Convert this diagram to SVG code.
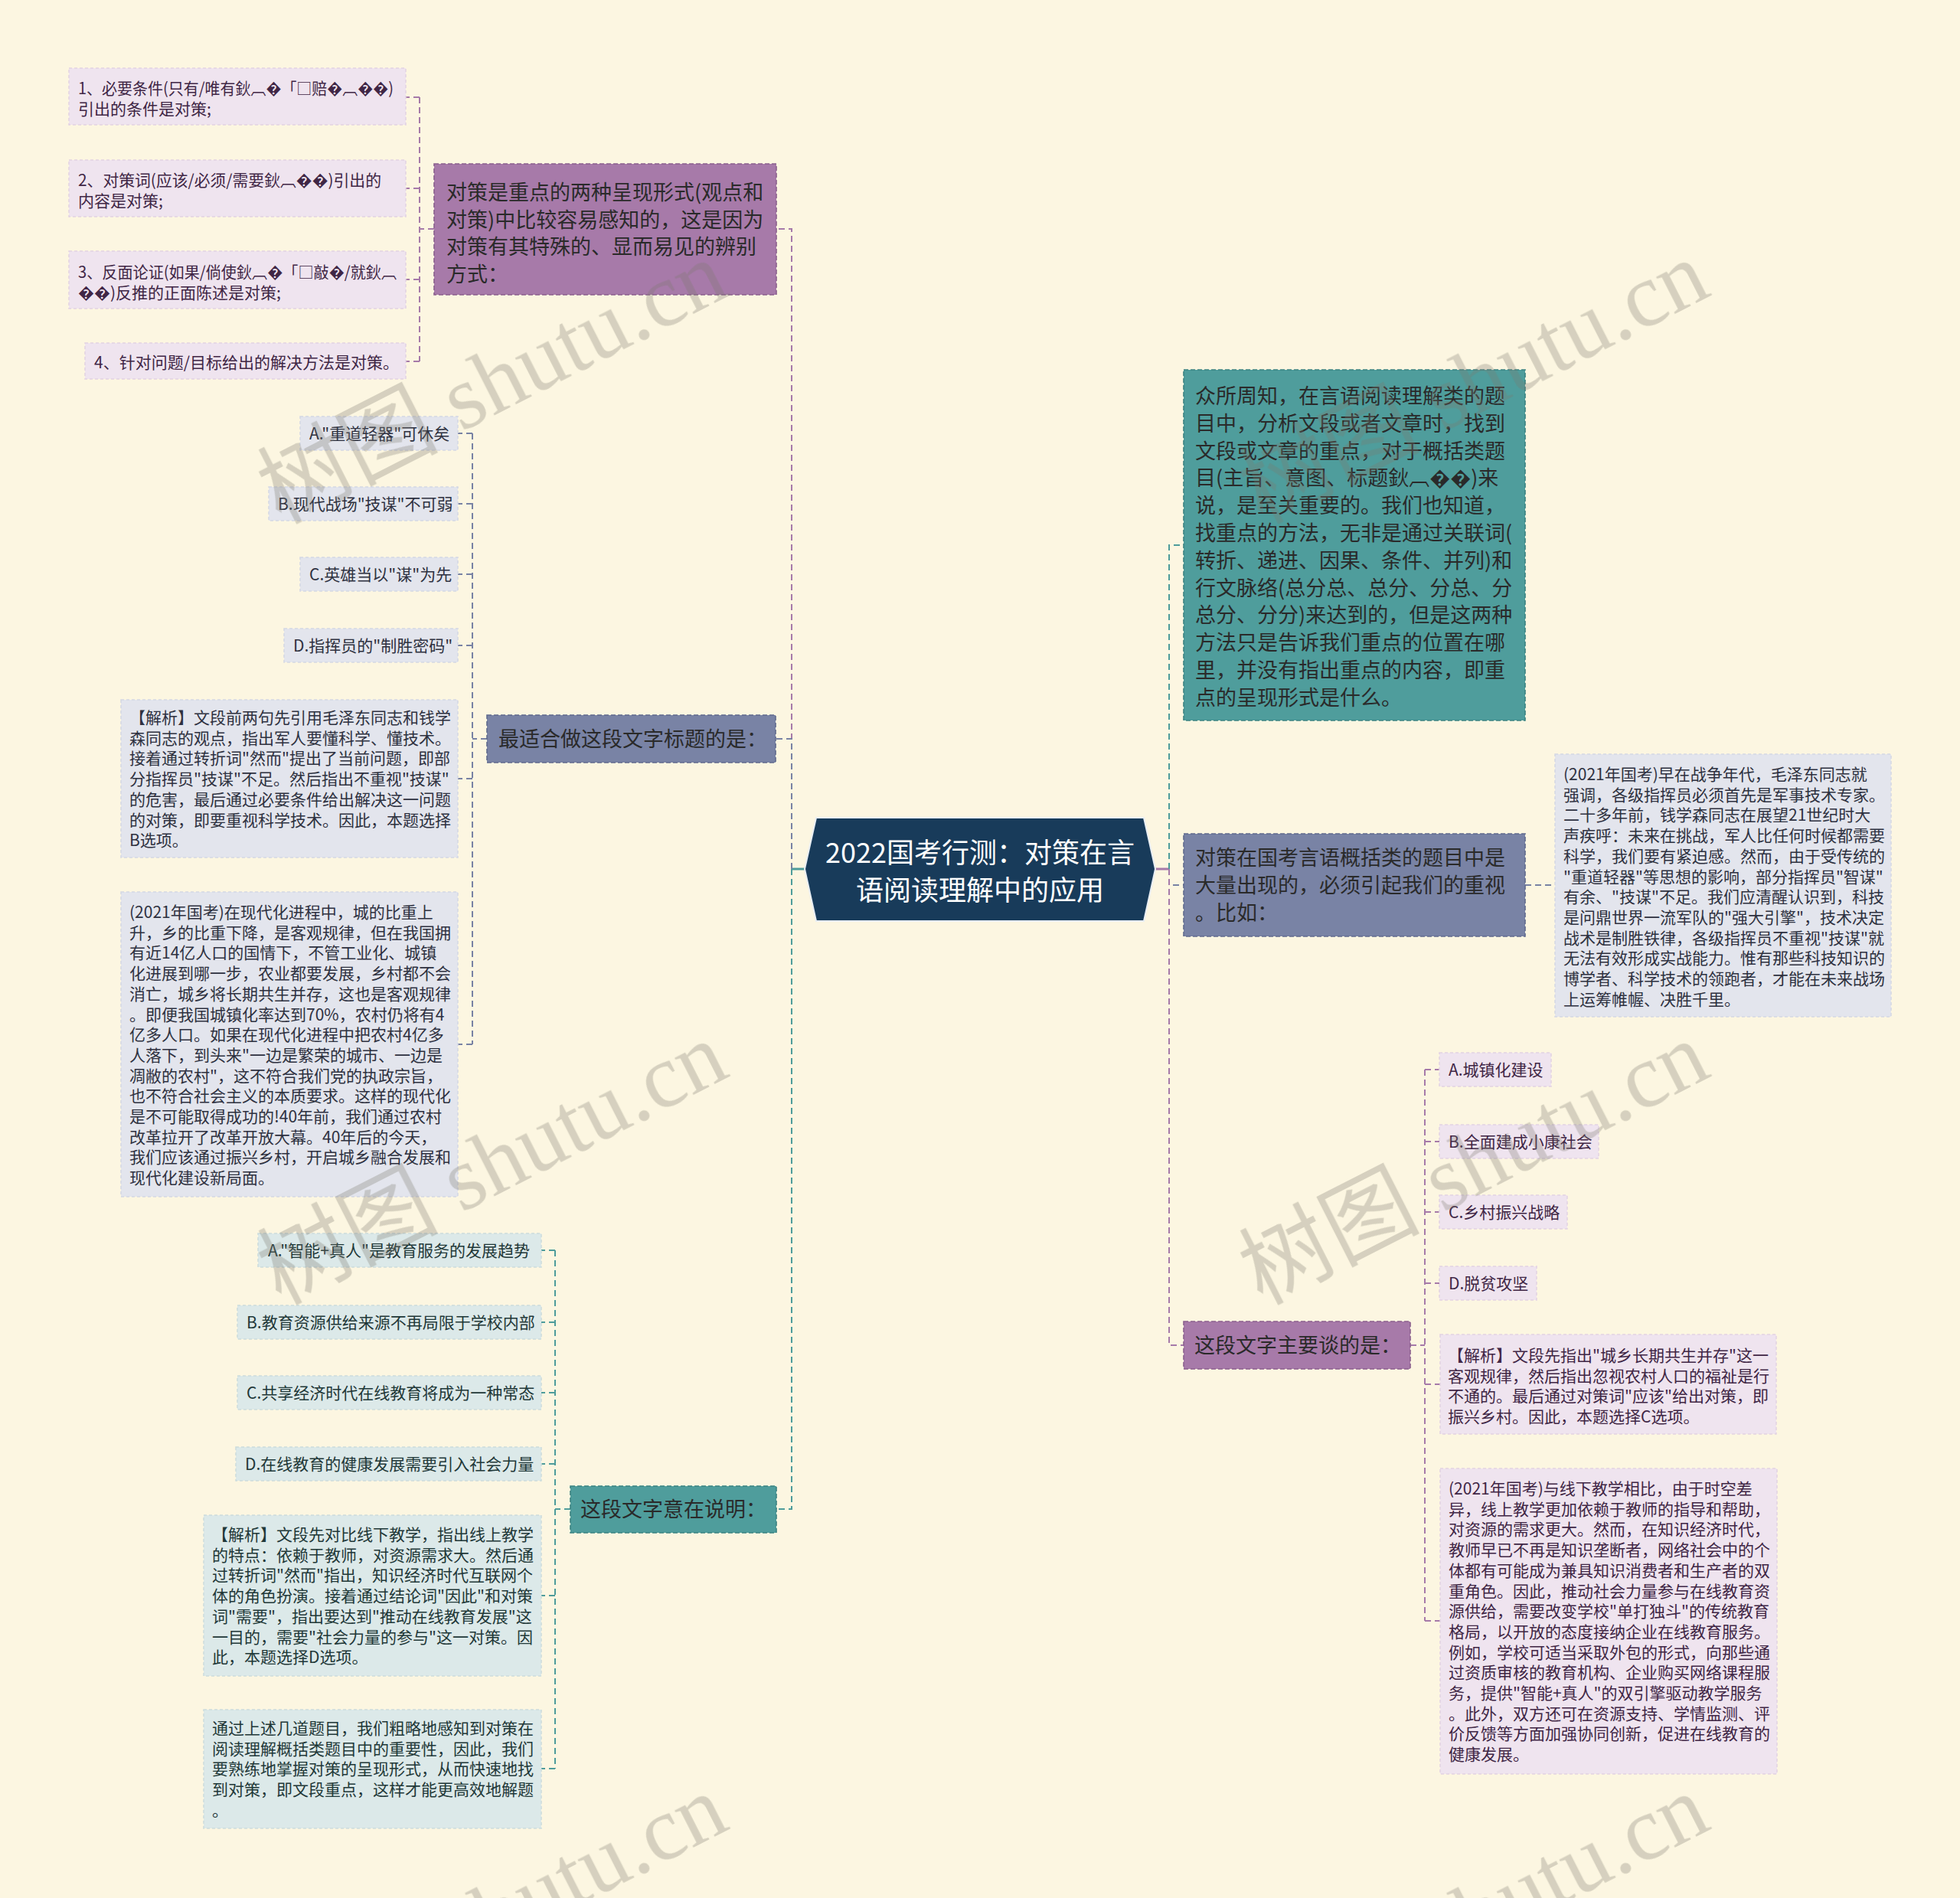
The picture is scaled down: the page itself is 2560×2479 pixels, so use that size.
<svg xmlns="http://www.w3.org/2000/svg" width="2560" height="2479" viewBox="0 0 2560 2479">
<style>
.t{font-family:"Noto Sans CJK SC","Noto Sans",sans-serif}
.l1{font-size:27px;fill:#2a2a2a}
.lf{font-size:21px}
.c{font-size:36px;fill:#ffffff;text-anchor:middle}
.tP{fill:#402645}.tS{fill:#2e3140}.tT{fill:#1f3838}
.ln{fill:none;stroke-width:2;stroke-dasharray:8 5}
.lP{stroke:#a67aa9}.lS{stroke:#7882a4}.lT{stroke:#4e9c9b}
.nP{fill:#a77aa9;stroke:#8a5f8d;stroke-width:1.6;stroke-dasharray:6 3}
.nS{fill:#7983a5;stroke:#5f6a8d;stroke-width:1.6;stroke-dasharray:6 3}
.nT{fill:#4f9d9c;stroke:#3a8281;stroke-width:1.6;stroke-dasharray:6 3}
.fP{fill:#efe4ef;stroke:#e2d2e2;stroke-width:1.5;stroke-dasharray:4 3}
.fS{fill:#e3e5ed;stroke:#d4d7e3;stroke-width:1.5;stroke-dasharray:4 3}
.fT{fill:#dce9e9;stroke:#cbdcdc;stroke-width:1.5;stroke-dasharray:4 3}
</style>
<rect width="2560" height="2479" fill="#fcf6e1"/>
<g id="connectors">
<line x1="1034" y1="1135" x2="1051" y2="1135" stroke="#4e9c9b" stroke-width="3"/>
<line x1="1509" y1="1135" x2="1527" y2="1135" stroke="#a67aa9" stroke-width="3"/>
<path class="ln lP" d="M1034,1135 V299 H1014"/>
<path class="ln lS" d="M1034,1135 V965 H1013"/>
<path class="ln lT" d="M1034,1135 V1971 H1014"/>
<path class="ln lP" d="M567,299 H548 M548,127 V472 M548,127 H530 M548,246 H530 M548,365 H530 M548,472 H530"/>
<path class="ln lS" d="M636,965 H617 M617,566 V1364 M617,566 H598 M617,658 H598 M617,750 H598 M617,843 H598 M617,1017 H598 M617,1364 H598"/>
<path class="ln lT" d="M745,1971 H725 M725,1633 V2310 M725,1633 H707 M725,1727 H707 M725,1819 H707 M725,1912 H707 M725,2084 H707 M725,2310 H707"/>
<path class="ln lT" d="M1527,1135 V712 H1546"/>
<path class="ln lS" d="M1527,1135 V1156 H1546"/>
<path class="ln lP" d="M1527,1135 V1757 H1546"/>
<path class="ln lS" d="M1992,1156 H2031"/>
<path class="ln lP" d="M1842,1757 H1861 M1861,1397 V2117 M1861,1397 H1880 M1861,1491 H1880 M1861,1583 H1880 M1861,1676 H1880 M1861,1808 H1881 M1861,2117 H1881"/>
</g>
<g id="center">
<polygon points="1066,1068 1494,1068 1509,1135 1494,1203 1066,1203 1051,1135" fill="#183b5a" stroke="#e9eef3" stroke-width="2"/>
<text class="t c" x="1280" y="1127">2022国考行测：对策在言</text>
<text class="t c" x="1280" y="1176">语阅读理解中的应用</text>
</g>
<g id="n-top-purple">
<rect class="nP" x="567" y="214" width="447" height="171"/>
<text class="t l1" x="583" y="261"><tspan x="583">对策是重点的两种呈现形式(观点和</tspan><tspan x="583" dy="35.7">对策)中比较容易感知的，这是因为</tspan><tspan x="583" dy="35.7">对策有其特殊的、显而易见的辨别</tspan><tspan x="583" dy="35.7">方式：</tspan></text>
</g>
<g id="leaf-p1"><rect class="fP" x="90" y="89" width="440" height="74"/><text class="t lf tP" x="102" y="123"><tspan x="102" textLength="412" lengthAdjust="spacingAndGlyphs">1、必要条件(只有/唯有鈥︹�「□赔�︹��)</tspan><tspan x="102" dy="26.7">引出的条件是对策;</tspan></text></g>
<g id="leaf-p2"><rect class="fP" x="90" y="209" width="440" height="74"/><text class="t lf tP" x="102" y="243"><tspan x="102" textLength="396" lengthAdjust="spacingAndGlyphs">2、对策词(应该/必须/需要鈥︹��)引出的</tspan><tspan x="102" dy="26.7">内容是对策;</tspan></text></g>
<g id="leaf-p3"><rect class="fP" x="90" y="328" width="440" height="75"/><text class="t lf tP" x="102" y="363"><tspan x="102" textLength="416" lengthAdjust="spacingAndGlyphs">3、反面论证(如果/倘使鈥︹�「□敲�/就鈥︹</tspan><tspan x="102" dy="26.7">��)反推的正面陈述是对策;</tspan></text></g>
<g id="leaf-p4"><rect class="fP" x="111" y="448" width="419" height="47"/><text class="t lf tP" x="123" y="481">4、针对问题/目标给出的解决方法是对策。</text></g>
<g id="n-title">
<rect class="nS" x="636" y="934" width="377" height="62"/>
<text class="t l1" x="651" y="975">最适合做这段文字标题的是：</text>
</g>
<g id="leaf-s1"><rect class="fS" x="392" y="544" width="206" height="44"/><text class="t lf tS" x="404" y="574">A."重道轻器"可休矣</text></g>
<g id="leaf-s2"><rect class="fS" x="351" y="636" width="247" height="44"/><text class="t lf tS" x="363" y="666">B.现代战场"技谋"不可弱</text></g>
<g id="leaf-s3"><rect class="fS" x="392" y="728" width="206" height="44"/><text class="t lf tS" x="404" y="758">C.英雄当以"谋"为先</text></g>
<g id="leaf-s4"><rect class="fS" x="371" y="821" width="227" height="44"/><text class="t lf tS" x="383" y="851">D.指挥员的"制胜密码"</text></g>
<g id="leaf-s5"><rect class="fS" x="158" y="914" width="440" height="206"/><text class="t lf tS" x="169" y="945"><tspan x="169">【解析】文段前两句先引用毛泽东同志和钱学</tspan><tspan x="169" dy="26.7">森同志的观点，指出军人要懂科学、懂技术。</tspan><tspan x="169" dy="26.7">接着通过转折词"然而"提出了当前问题，即部</tspan><tspan x="169" dy="26.7">分指挥员"技谋"不足。然后指出不重视"技谋"</tspan><tspan x="169" dy="26.7">的危害，最后通过必要条件给出解决这一问题</tspan><tspan x="169" dy="26.7">的对策，即要重视科学技术。因此，本题选择</tspan><tspan x="169" dy="26.7">B选项。</tspan></text></g>
<g id="leaf-s6"><rect class="fS" x="158" y="1165" width="440" height="398"/><text class="t lf tS" x="169" y="1199"><tspan x="169">(2021年国考)在现代化进程中，城的比重上</tspan><tspan x="169" dy="26.7">升，乡的比重下降，是客观规律，但在我国拥</tspan><tspan x="169" dy="26.7">有近14亿人口的国情下，不管工业化、城镇</tspan><tspan x="169" dy="26.7">化进展到哪一步，农业都要发展，乡村都不会</tspan><tspan x="169" dy="26.7">消亡，城乡将长期共生并存，这也是客观规律</tspan><tspan x="169" dy="26.7">。即便我国城镇化率达到70%，农村仍将有4</tspan><tspan x="169" dy="26.7">亿多人口。如果在现代化进程中把农村4亿多</tspan><tspan x="169" dy="26.7">人落下，到头来"一边是繁荣的城市、一边是</tspan><tspan x="169" dy="26.7">凋敝的农村"，这不符合我们党的执政宗旨，</tspan><tspan x="169" dy="26.7">也不符合社会主义的本质要求。这样的现代化</tspan><tspan x="169" dy="26.7">是不可能取得成功的!40年前，我们通过农村</tspan><tspan x="169" dy="26.7">改革拉开了改革开放大幕。40年后的今天，</tspan><tspan x="169" dy="26.7">我们应该通过振兴乡村，开启城乡融合发展和</tspan><tspan x="169" dy="26.7">现代化建设新局面。</tspan></text></g>
<g id="n-explain">
<rect class="nT" x="745" y="1941" width="269" height="61"/>
<text class="t l1" x="758" y="1981">这段文字意在说明：</text>
</g>
<g id="leaf-t1"><rect class="fT" x="337" y="1611" width="370" height="44"/><text class="t lf tT" x="350" y="1641">A."智能+真人"是教育服务的发展趋势</text></g>
<g id="leaf-t2"><rect class="fT" x="310" y="1705" width="397" height="44"/><text class="t lf tT" x="322" y="1735">B.教育资源供给来源不再局限于学校内部</text></g>
<g id="leaf-t3"><rect class="fT" x="310" y="1797" width="397" height="44"/><text class="t lf tT" x="322" y="1827">C.共享经济时代在线教育将成为一种常态</text></g>
<g id="leaf-t4"><rect class="fT" x="308" y="1890" width="399" height="44"/><text class="t lf tT" x="320" y="1920">D.在线教育的健康发展需要引入社会力量</text></g>
<g id="leaf-t5"><rect class="fT" x="266" y="1979" width="441" height="210"/><text class="t lf tT" x="277" y="2012"><tspan x="277">【解析】文段先对比线下教学，指出线上教学</tspan><tspan x="277" dy="26.7">的特点：依赖于教师，对资源需求大。然后通</tspan><tspan x="277" dy="26.7">过转折词"然而"指出，知识经济时代互联网个</tspan><tspan x="277" dy="26.7">体的角色扮演。接着通过结论词"因此"和对策</tspan><tspan x="277" dy="26.7">词"需要"，指出要达到"推动在线教育发展"这</tspan><tspan x="277" dy="26.7">一目的，需要"社会力量的参与"这一对策。因</tspan><tspan x="277" dy="26.7">此，本题选择D选项。</tspan></text></g>
<g id="leaf-t6"><rect class="fT" x="266" y="2233" width="441" height="155"/><text class="t lf tT" x="277" y="2265"><tspan x="277">通过上述几道题目，我们粗略地感知到对策在</tspan><tspan x="277" dy="26.7">阅读理解概括类题目中的重要性，因此，我们</tspan><tspan x="277" dy="26.7">要熟练地掌握对策的呈现形式，从而快速地找</tspan><tspan x="277" dy="26.7">到对策，即文段重点，这样才能更高效地解题</tspan><tspan x="277" dy="26.7">。</tspan></text></g>
<g id="n-known">
<rect class="nT" x="1546" y="483" width="446" height="458"/>
<text class="t l1" x="1561" y="527"><tspan x="1561">众所周知，在言语阅读理解类的题</tspan><tspan x="1561" dy="35.8">目中，分析文段或者文章时，找到</tspan><tspan x="1561" dy="35.8">文段或文章的重点，对于概括类题</tspan><tspan x="1561" dy="35.8">目(主旨、意图、标题鈥︹��)来</tspan><tspan x="1561" dy="35.8">说，是至关重要的。我们也知道，</tspan><tspan x="1561" dy="35.8">找重点的方法，无非是通过关联词(</tspan><tspan x="1561" dy="35.8">转折、递进、因果、条件、并列)和</tspan><tspan x="1561" dy="35.8">行文脉络(总分总、总分、分总、分</tspan><tspan x="1561" dy="35.8">总分、分分)来达到的，但是这两种</tspan><tspan x="1561" dy="35.8">方法只是告诉我们重点的位置在哪</tspan><tspan x="1561" dy="35.8">里，并没有指出重点的内容，即重</tspan><tspan x="1561" dy="35.8">点的呈现形式是什么。</tspan></text>
</g>
<g id="n-frequent">
<rect class="nS" x="1546" y="1089" width="446" height="134"/>
<text class="t l1" x="1561" y="1130"><tspan x="1561">对策在国考言语概括类的题目中是</tspan><tspan x="1561" dy="35.8">大量出现的，必须引起我们的重视</tspan><tspan x="1561" dy="35.8">。比如：</tspan></text>
</g>
<g id="leaf-r2021a"><rect class="fS" x="2031" y="985" width="439" height="343"/><text class="t lf tS" x="2042" y="1019"><tspan x="2042">(2021年国考)早在战争年代，毛泽东同志就</tspan><tspan x="2042" dy="26.7">强调，各级指挥员必须首先是军事技术专家。</tspan><tspan x="2042" dy="26.7">二十多年前，钱学森同志在展望21世纪时大</tspan><tspan x="2042" dy="26.7">声疾呼：未来在挑战，军人比任何时候都需要</tspan><tspan x="2042" dy="26.7">科学，我们要有紧迫感。然而，由于受传统的</tspan><tspan x="2042" dy="26.7">"重道轻器"等思想的影响，部分指挥员"智谋"</tspan><tspan x="2042" dy="26.7">有余、"技谋"不足。我们应清醒认识到，科技</tspan><tspan x="2042" dy="26.7">是问鼎世界一流军队的"强大引擎"，技术决定</tspan><tspan x="2042" dy="26.7">战术是制胜铁律，各级指挥员不重视"技谋"就</tspan><tspan x="2042" dy="26.7">无法有效形成实战能力。惟有那些科技知识的</tspan><tspan x="2042" dy="26.7">博学者、科学技术的领跑者，才能在未来战场</tspan><tspan x="2042" dy="26.7">上运筹帷幄、决胜千里。</tspan></text></g>
<g id="n-mainly">
<rect class="nP" x="1546" y="1726" width="296" height="62"/>
<text class="t l1" x="1560" y="1767">这段文字主要谈的是：</text>
</g>
<g id="leaf-r1"><rect class="fP" x="1880" y="1375" width="146" height="44"/><text class="t lf tP" x="1892" y="1405">A.城镇化建设</text></g>
<g id="leaf-r2"><rect class="fP" x="1880" y="1469" width="208" height="44"/><text class="t lf tP" x="1892" y="1499">B.全面建成小康社会</text></g>
<g id="leaf-r3"><rect class="fP" x="1880" y="1561" width="167" height="44"/><text class="t lf tP" x="1892" y="1591">C.乡村振兴战略</text></g>
<g id="leaf-r4"><rect class="fP" x="1880" y="1654" width="127" height="44"/><text class="t lf tP" x="1892" y="1684">D.脱贫攻坚</text></g>
<g id="leaf-r5"><rect class="fP" x="1881" y="1743" width="439" height="130"/><text class="t lf tP" x="1891" y="1778"><tspan x="1891">【解析】文段先指出"城乡长期共生并存"这一</tspan><tspan x="1891" dy="26.7">客观规律，然后指出忽视农村人口的福祉是行</tspan><tspan x="1891" dy="26.7">不通的。最后通过对策词"应该"给出对策，即</tspan><tspan x="1891" dy="26.7">振兴乡村。因此，本题选择C选项。</tspan></text></g>
<g id="leaf-r6"><rect class="fP" x="1881" y="1918" width="440" height="399"/><text class="t lf tP" x="1892" y="1952"><tspan x="1892">(2021年国考)与线下教学相比，由于时空差</tspan><tspan x="1892" dy="26.7">异，线上教学更加依赖于教师的指导和帮助，</tspan><tspan x="1892" dy="26.7">对资源的需求更大。然而，在知识经济时代，</tspan><tspan x="1892" dy="26.7">教师早已不再是知识垄断者，网络社会中的个</tspan><tspan x="1892" dy="26.7">体都有可能成为兼具知识消费者和生产者的双</tspan><tspan x="1892" dy="26.7">重角色。因此，推动社会力量参与在线教育资</tspan><tspan x="1892" dy="26.7">源供给，需要改变学校"单打独斗"的传统教育</tspan><tspan x="1892" dy="26.7">格局，以开放的态度接纳企业在线教育服务。</tspan><tspan x="1892" dy="26.7">例如，学校可适当采取外包的形式，向那些通</tspan><tspan x="1892" dy="26.7">过资质审核的教育机构、企业购买网络课程服</tspan><tspan x="1892" dy="26.7">务，提供"智能+真人"的双引擎驱动教学服务</tspan><tspan x="1892" dy="26.7">。此外，双方还可在资源支持、学情监测、评</tspan><tspan x="1892" dy="26.7">价反馈等方面加强协同创新，促进在线教育的</tspan><tspan x="1892" dy="26.7">健康发展。</tspan></text></g>
<g id="watermarks" fill="#7d7b6e" opacity="0.3" font-family="'Liberation Serif','Noto Sans CJK SC',serif" font-size="118">
<text transform="translate(366,685) rotate(-27)">树图 shutu.cn</text>
<text transform="translate(366,1705) rotate(-27)">树图 shutu.cn</text>
<text transform="translate(366,2688) rotate(-27)">树图 shutu.cn</text>
<text transform="translate(1648,685) rotate(-27)">树图 shutu.cn</text>
<text transform="translate(1648,1705) rotate(-27)">树图 shutu.cn</text>
<text transform="translate(1648,2688) rotate(-27)">树图 shutu.cn</text>
</g>
</svg>
